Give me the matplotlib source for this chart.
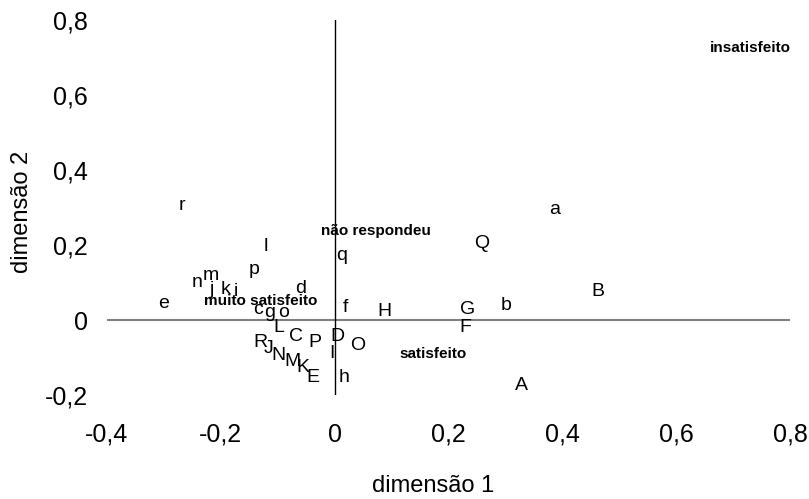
import matplotlib
matplotlib.use("Agg")
import matplotlib.pyplot as plt

plt.rcParams['font.family'] = ['Liberation Sans', 'DejaVu Sans']

# Point labels (rows/columns of the correspondence analysis)
labels = ["a", "r", "Q", "l", "q", "p", "B", "n", "m", "j", "k", "i", "d", "e",
          "f", "H", "G", "b", "c", "g", "o", "F", "L", "C", "P", "D", "O", "R",
          "J", "I", "N", "M", "K", "E", "h", "A"]
dim1 = [0.387, -0.269, 0.258, -0.121, 0.012, -0.141, 0.462, -0.241, -0.218, -0.216,
        -0.191, -0.174, -0.060, -0.301, 0.019, 0.088, 0.234, 0.302, -0.134, -0.115,
        -0.090, 0.230, -0.098, -0.068, -0.035, 0.005, 0.040, -0.130, -0.116, -0.004,
        -0.098, -0.074, -0.056, -0.039, 0.016, 0.329]
dim2 = [0.296, 0.304, 0.205, 0.195, 0.173, 0.136, 0.077, 0.101, 0.120, 0.080,
        0.080, 0.075, 0.085, 0.045, 0.032, 0.024, 0.029, 0.040, 0.027, 0.021,
        0.021, -0.021, -0.021, -0.045, -0.061, -0.043, -0.067, -0.061, -0.075, -0.088,
        -0.096, -0.112, -0.128, -0.152, -0.152, -0.176]

# Satisfaction categories
cat_labels = ["insatisfeito", "não respondeu", "muito satisfeito", "satisfeito"]
cat_dim1 = [0.731, 0.072, -0.130, 0.172]
cat_dim2 = [0.725, 0.237, 0.050, -0.091]

xticks = [-0.4, -0.2, 0.0, 0.2, 0.4, 0.6, 0.8]
yticks = [-0.2, 0.0, 0.2, 0.4, 0.6, 0.8]

def fmt(v):
    if abs(v) < 1e-9:
        return "0"
    return ("%.1f" % v).replace(".", ",")

fig = plt.figure(figsize=(8.09, 4.99), dpi=100)
ax = fig.add_axes([107/809, 104/499, 683/809, 375/499])
ax.set_xlim(-0.4, 0.8)
ax.set_ylim(-0.2, 0.8)

ax.plot([-0.4, 0.8], [0, 0], color="#808080", lw=1.5, zorder=1)
ax.plot([0, 0], [-0.2, 0.8], color="black", lw=1.0, zorder=1)

for t, x, y in zip(labels, dim1, dim2):
    ax.text(x, y, t, ha="center", va="center", fontsize=14, color="black", zorder=3)
for t, x, y in zip(cat_labels, cat_dim1, cat_dim2):
    ax.text(x, y, t, ha="center", va="center", fontsize=11, fontweight="bold",
            color="black", zorder=3)

for s in ax.spines.values():
    s.set_visible(False)
ax.set_xticks(xticks)
ax.set_xticklabels([fmt(v) for v in xticks])
ax.set_yticks(yticks)
ax.set_yticklabels([fmt(v) for v in yticks])
ax.tick_params(axis="both", length=0, labelsize=18)
ax.tick_params(axis="x", pad=20)
ax.tick_params(axis="y", pad=14)
ax.set_xlabel("dimensão 1", fontsize=17)
ax.set_ylabel("dimensão 2", fontsize=17)
ax.xaxis.set_label_coords(0.477, -0.213)
ax.yaxis.set_label_coords(-0.108, 0.488)

fig.savefig("out.png", dpi=100)
